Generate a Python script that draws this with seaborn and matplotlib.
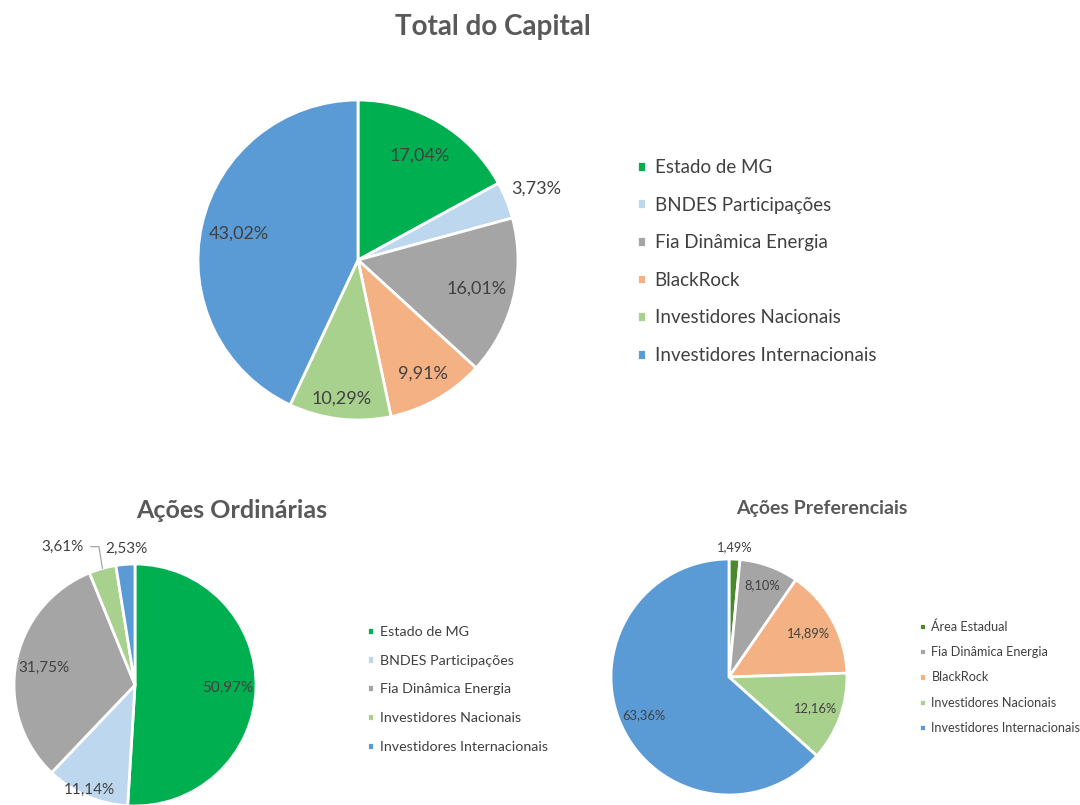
import numpy as np
import matplotlib
matplotlib.use("Agg")
import matplotlib.pyplot as plt
import seaborn as sns

# ---------------- data ----------------
cap_labels = ["Estado de MG", "BNDES Participações", "Fia Dinâmica Energia",
              "BlackRock", "Investidores Nacionais", "Investidores Internacionais"]
cap_values = [17.04, 3.73, 16.01, 9.91, 10.29, 43.02]

ord_labels = ["Estado de MG", "BNDES Participações", "Fia Dinâmica Energia",
              "Investidores Nacionais", "Investidores Internacionais"]
ord_values = [50.97, 11.14, 31.75, 3.61, 2.53]

pref_labels = ["Área Estadual", "Fia Dinâmica Energia", "BlackRock",
               "Investidores Nacionais", "Investidores Internacionais"]
pref_values = [1.49, 8.10, 14.89, 12.16, 63.36]

titles = ["Total do Capital", "Ações Ordinárias", "Ações Preferenciais"]

color_map = {
    "Estado de MG": "#00B050",
    "BNDES Participações": "#BDD7EE",
    "Fia Dinâmica Energia": "#A5A5A5",
    "BlackRock": "#F4B183",
    "Investidores Nacionais": "#A9D18E",
    "Investidores Internacionais": "#5B9BD5",
    "Área Estadual": "#4A8A2C",
}

sns.set_theme(style="white")
plt.rcParams["font.family"] = ["Lato", "DejaVu Sans"]

W, H = 1080, 805
fig = plt.figure(figsize=(W / 100, H / 100), dpi=100)
fig.patch.set_facecolor("white")
TXT = "#404040"
TITLE = "#595959"


def pie_axes(cx, cy, r):
    ax = fig.add_axes([(cx - r) / W, 1 - (cy + r) / H, 2 * r / W, 2 * r / H])
    return ax


def fmt(v):
    return f"{v:.2f}%".replace(".", ",")


def draw_pie(ax, labels, values, fs, dists):
    cols = sns.color_palette([color_map[l] for l in labels])
    wedges, _ = ax.pie(values, colors=cols, startangle=90, counterclock=False,
                       wedgeprops=dict(edgecolor="white", linewidth=2),
                       radius=1.0)
    for w, v, d in zip(wedges, values, dists):
        if d is None:
            continue
        mid = np.deg2rad((w.theta1 + w.theta2) / 2)
        ax.text(d * np.cos(mid), d * np.sin(mid), fmt(v), ha="center",
                va="center", fontsize=fs, color=TXT, clip_on=False)
    ax.set_xlim(-1, 1)
    ax.set_ylim(-1, 1)
    ax.set_aspect("equal")
    ax.axis("off")
    return wedges


# ---- top pie ----
ax1 = pie_axes(358, 260, 160)
w1 = draw_pie(ax1, cap_labels, cap_values, 13,
              [0.76, 1.2, 0.76, 0.82, 0.87, 0.76])
fig.text(493 / W, 1 - 27 / H, titles[0], ha="center", va="center",
         fontsize=20, fontweight="bold", color=TITLE)
fig.legend(w1, cap_labels, loc="upper left", bbox_to_anchor=(620 / W, 1 - 142 / H),
           frameon=False, fontsize=13.5, handlelength=0.5, handleheight=0.5,
           handletextpad=0.45, labelspacing=1.1, labelcolor=TXT)

# ---- bottom left pie ----
ax2 = pie_axes(135, 685, 121)
w2 = draw_pie(ax2, ord_labels, ord_values, 11, [0.77, 0.95, 0.77, None, None])
# outside labels for the two small slices
for i, (dist, dang) in zip([3, 4], [(1.29, 12.0), (1.13, -1.0)]):
    w = w2[i]
    mid = (w.theta1 + w.theta2) / 2
    ang = np.deg2rad(mid + dang)
    lx, ly = dist * np.cos(ang), dist * np.sin(ang)
    ax2.text(lx, ly, fmt(ord_values[i]), ha="center", va="center",
             fontsize=11, color=TXT, clip_on=False)
    if i == 3:
        ex, ey = np.cos(np.deg2rad(mid)), np.sin(np.deg2rad(mid))
        ax2.plot([lx + 0.23, lx + 0.3, ex], [ly, ly, ey],
                 color="#A6A6A6", lw=0.9, clip_on=False)
fig.text(232 / W, 1 - 510 / H, titles[1], ha="center", va="center",
         fontsize=18, fontweight="bold", color=TITLE)
fig.legend(w2, ord_labels, loc="upper left", bbox_to_anchor=(354 / W, 1 - 613 / H),
           frameon=False, fontsize=10.3, handlelength=0.5, handleheight=0.5,
           handletextpad=0.45, labelspacing=1.17, labelcolor=TXT)

# ---- bottom right pie ----
ax3 = pie_axes(729, 677, 118)
w3 = draw_pie(ax3, pref_labels, pref_values, 9.3, [1.1, 0.83, 0.77, 0.78, 0.79])
fig.text(822 / W, 1 - 508 / H, titles[2], ha="center", va="center",
         fontsize=14, fontweight="bold", color=TITLE)
fig.legend(w3, pref_labels, loc="upper left", bbox_to_anchor=(908 / W, 1 - 609 / H),
           frameon=False, fontsize=9.1, handlelength=0.5, handleheight=0.5,
           handletextpad=0.45, labelspacing=1.05, labelcolor=TXT)

fig.savefig("out.png", dpi=100, facecolor="white")
